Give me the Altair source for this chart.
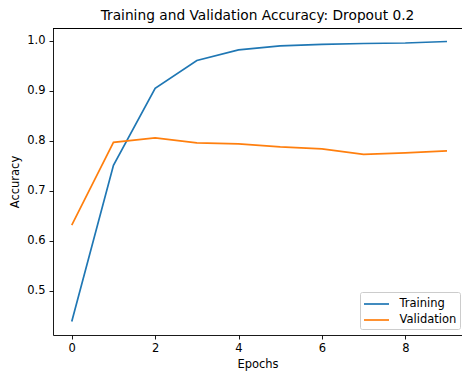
import altair as alt
import pandas as pd

# Accuracy per epoch for the dropout-0.2 model
epochs = list(range(10))
training_acc = [0.438, 0.751, 0.905, 0.961, 0.982, 0.990, 0.993, 0.995, 0.996, 0.999]
validation_acc = [0.631, 0.797, 0.806, 0.796, 0.794, 0.788, 0.784, 0.773, 0.776, 0.780]
series_names = ["Training", "Validation"]
series_colors = ["#1f77b4", "#ff7f0e"]
x_ticks = [0, 2, 4, 6, 8]
y_ticks = [0.5, 0.6, 0.7, 0.8, 0.9, 1.0]

df = pd.DataFrame({
    "epoch": epochs * 2,
    "accuracy": training_acc + validation_acc,
    "series": [series_names[0]] * len(epochs) + [series_names[1]] * len(epochs),
})

FONT = "DejaVu Sans"
FS = 11.5
W, H = 409, 307

lines = alt.Chart(df).mark_line(strokeWidth=1.7).encode(
    x=alt.X(
        "epoch:Q",
        title="Epochs",
        scale=alt.Scale(domain=[-0.45, 9.36], nice=False, zero=False),
        axis=alt.Axis(values=x_ticks, format="d", grid=False,
                      labelPadding=3, titlePadding=5),
    ),
    y=alt.Y(
        "accuracy:Q",
        title="Accuracy",
        scale=alt.Scale(domain=[0.411, 1.026], nice=False, zero=False),
        axis=alt.Axis(values=y_ticks, format=".1f", grid=False,
                      labelPadding=4, titlePadding=6),
    ),
    color=alt.Color(
        "series:N",
        scale=alt.Scale(domain=series_names, range=series_colors),
        legend=alt.Legend(
            title=None,
            orient="none",
            legendX=307,
            legendY=264,
            # a short flat line as the legend handle
            symbolType="M-1.5625,0H1.5625",
            symbolSize=256,
            symbolOffset=4.5,
            symbolStrokeWidth=1.7,
            symbolFillColor="transparent",
            labelFontSize=FS,
            labelFont=FONT,
            labelColor="#000",
            labelOffset=14,
            rowPadding=1,
            padding=3,
            strokeColor="#cccccc",
            fillColor="rgba(255,255,255,0.8)",
            cornerRadius=2,
        ),
    ),
)

# top spine of the frame
top_spine = alt.Chart(df).mark_rule(color="#000", strokeWidth=0.9).encode(
    x=alt.value(0), x2=alt.value(W), y=alt.value(0.5)
)

chart = alt.layer(lines, top_spine).properties(
    width=W,
    height=H,
    title=alt.TitleParams(
        "Training and Validation Accuracy: Dropout 0.2",
        font=FONT, fontSize=13.75, fontWeight="normal", color="#000",
        anchor="middle", baseline="bottom", offset=4, dy=13,
    ),
    autosize=alt.AutoSizeParams(type="none"),
    padding={"left": 53, "top": 28, "right": 0, "bottom": 39},
).configure_view(
    stroke=None
).configure_axis(
    labelFont=FONT, titleFont=FONT, labelFontSize=FS, titleFontSize=FS,
    titleFontWeight="normal", labelColor="#000", titleColor="#000",
    domainColor="#000", domainWidth=0.9, tickColor="#000", tickWidth=0.9,
    tickSize=4,
)

chart.save("out.html", embed_options={"renderer": "svg", "actions": False})
